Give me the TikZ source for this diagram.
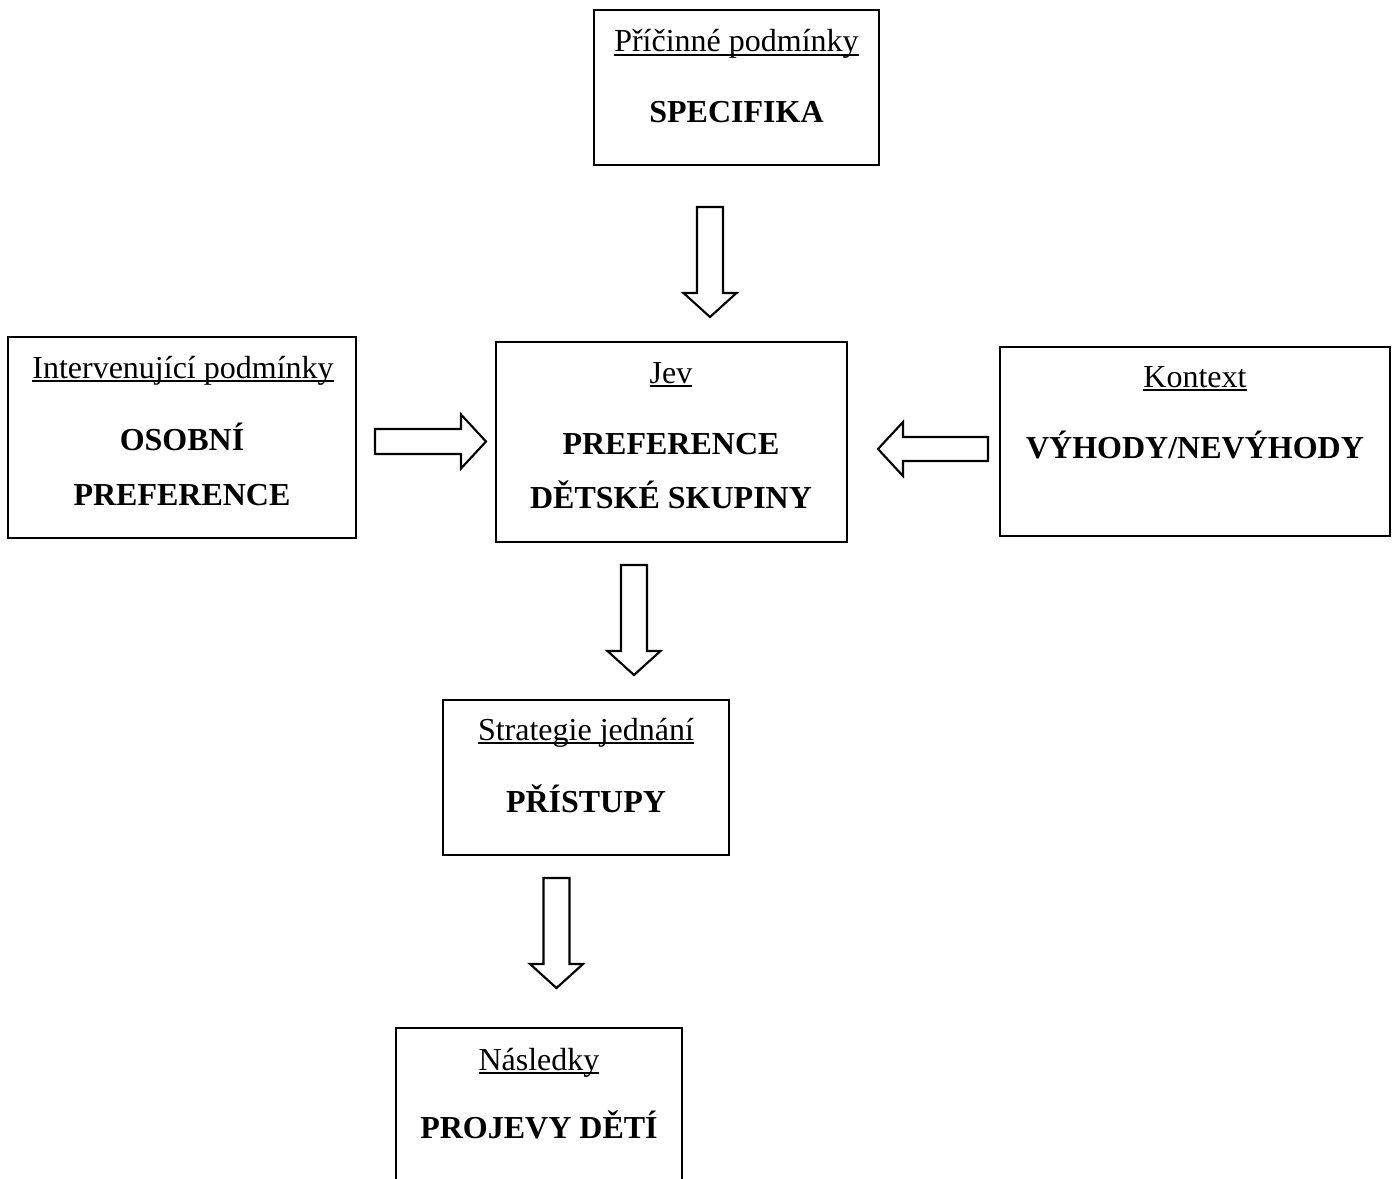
\documentclass[tikz,border=0pt]{standalone}
\usepackage{fontspec}
\setmainfont{Liberation Serif}
\usetikzlibrary{fit}
\newcommand\myul[1]{\setbox0\hbox{#1}\rlap{\rule[-1.4pt]{\wd0}{0.65pt}}\box0}
\tikzset{
  box/.style={draw, line width=0.8pt, inner sep=0pt},
  ttl/.style={anchor=base, inner sep=0pt, font=\fontsize{12pt}{14pt}\selectfont},
  big/.style={anchor=base, inner sep=0pt, font=\fontsize{12pt}{14pt}\selectfont\bfseries},
  barrow/.style={draw, line width=0.8pt, line join=miter, fill=white}
}
\begin{document}
\begin{tikzpicture}[x=0.375pt, y=-0.375pt]
\useasboundingbox (0,0) rectangle (1398,1178);
% boxes
\node[box, fit={(594,10) (879,165)}] (pricinne) {};
\node[box, fit={(8,337) (356,538)}] (interv) {};
\node[box, fit={(496,342) (847,542)}] (jev) {};
\node[box, fit={(1000,347) (1390,536)}] (kontext) {};
\node[box, fit={(443,700) (729,855)}] (strat) {};
\node[box, fit={(396,1028) (682,1230)}] (nasl) {};
% texts
\node[ttl] (t1) at (736.5,52) {\myul{Příčinné podmínky}};
\node[big] (b1) at (736.5,122) {SPECIFIKA};
\node[ttl] (t2) at (183,378) {\myul{Intervenující podmínky}};
\node[big] (b2a) at (182,450) {OSOBNÍ};
\node[big] (b2b) at (182,505) {PREFERENCE};
\node[ttl] (t3) at (671,383) {\myul{Jev}};
\node[big] (b3a) at (671,454) {PREFERENCE};
\node[big] (b3b) at (671,508) {DĚTSKÉ SKUPINY};
\node[ttl] (t4) at (1195,387) {\myul{Kontext}};
\node[big] (b4) at (1195,458) {VÝHODY/NEVÝHODY};
\node[ttl] (t5) at (586,740) {\myul{Strategie jednání}};
\node[big] (b5) at (586,812) {PŘÍSTUPY};
\node[ttl] (t6) at (539,1070) {\myul{Následky}};
\node[big] (b6) at (539,1138) {PROJEVY DĚTÍ};
% block arrows (down)
\foreach \cx/\yt in {710/207, 634/565, 556.5/878}{
  \draw[barrow] (\cx-13,\yt) -- (\cx+13,\yt) -- (\cx+13,\yt+86) -- (\cx+26.5,\yt+86)
    -- (\cx,\yt+110) -- (\cx-26.5,\yt+86) -- (\cx-13,\yt+86) -- cycle;
}
% right arrow
\draw[barrow] (375,429) -- (461,429) -- (461,414.5) -- (486,441.5) -- (461,468.5)
  -- (461,454) -- (375,454) -- cycle;
% left arrow
\draw[barrow] (988,437) -- (903,437) -- (903,422) -- (878,449) -- (903,476)
  -- (903,461) -- (988,461) -- cycle;
\end{tikzpicture}
\end{document}
